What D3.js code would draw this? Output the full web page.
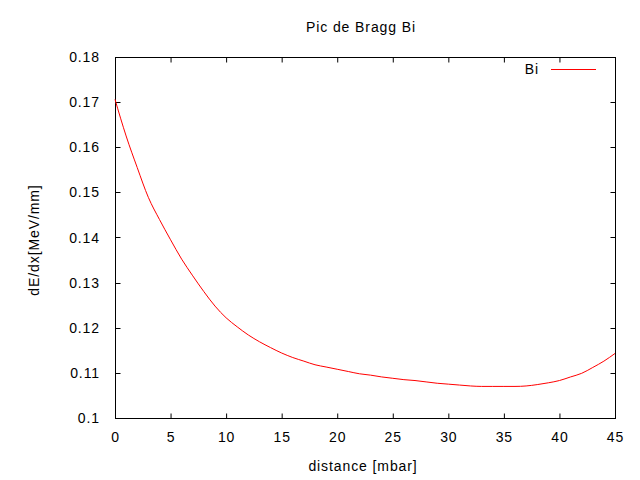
<!DOCTYPE html>
<html><head><meta charset="utf-8">
<script src="https://cdn.jsdelivr.net/npm/d3@7"></script>
<style>
body{margin:0;background:#fff;}
svg text{font-family:"Liberation Sans",Arial,sans-serif;font-size:14px;fill:#000;letter-spacing:0.9px;}
</style></head>
<body>
<svg id="c" width="640" height="480"></svg>
<script>
const distance = [0,1,2,3,4,5,6,7,8,9,10,11,12,13,14,15,16,17,18,19,20,21,22,23,24,25,26,27,28,29,30,31,32,33,34,35,36,37,38,39,40,41,42,43,44,45];
const dEdx = [0.1706,0.1625,0.1555,0.1489,0.1440,0.1395,0.1352,0.1315,0.1280,0.1248,0.1222,0.1202,0.1184,0.1169,0.1156,0.1144,0.1134,0.1126,0.1118,0.1113,0.1108,0.1103,0.1098,0.1095,0.1091,0.1088,0.1085,0.1083,0.1080,0.1077,0.1075,0.1073,0.1071,0.1070,0.1070,0.1070,0.1070,0.1071,0.1074,0.1078,0.1083,0.1091,0.1099,0.1112,0.1126,0.1143];
const xTicks = [0,5,10,15,20,25,30,35,40,45];
const yTicks = [0.1,0.11,0.12,0.13,0.14,0.15,0.16,0.17,0.18];
const title = "Pic de Bragg Bi";
const xLabel = "distance [mbar]";
const yLabel = "dE/dx[MeV/mm]";
const seriesName = "Bi";

const L=115,R=615,T=57,B=418;
const svg=d3.select("#c");
const x=d3.scaleLinear().domain([0,45]).range([L,R]);
const y=d3.scaleLinear().domain([0.1,0.18]).range([B,T]);
const tl=5;

const g=svg.append("g");
xTicks.forEach(t=>{
  g.append("line").attr("x1",x(t)+0.5).attr("x2",x(t)+0.5).attr("y1",B+0.5).attr("y2",B+0.5-tl).attr("stroke","#000");
  g.append("line").attr("x1",x(t)+0.5).attr("x2",x(t)+0.5).attr("y1",T+0.5).attr("y2",T+0.5+tl).attr("stroke","#000");
  g.append("text").attr("x",x(t)+0.5).attr("y",B+24).attr("text-anchor","middle").text(d3.format("d")(t));
});
yTicks.forEach(t=>{
  g.append("line").attr("x1",L+0.5).attr("x2",L+0.5+tl).attr("y1",Math.round(y(t))+0.5).attr("y2",Math.round(y(t))+0.5).attr("stroke","#000");
  g.append("line").attr("x1",R+0.5).attr("x2",R+0.5-tl).attr("y1",Math.round(y(t))+0.5).attr("y2",Math.round(y(t))+0.5).attr("stroke","#000");
  g.append("text").attr("x",100).attr("y",y(t)+5).attr("text-anchor","end").text(d3.format("")(+t.toFixed(2)));
});
g.append("rect").attr("x",L+0.5).attr("y",T+0.5).attr("width",R-L).attr("height",B-T).attr("fill","none").attr("stroke","#000");

const line=d3.line().x((d,i)=>x(distance[i])).y(d=>y(d)).curve(d3.curveMonotoneX);
svg.append("path").datum(dEdx).attr("d",line).attr("fill","none").attr("stroke","#ff0000").attr("stroke-width",1);

svg.append("text").attr("x",539).attr("y",74).attr("text-anchor","end").text(seriesName);
svg.append("line").attr("x1",551).attr("x2",596).attr("y1",69.5).attr("y2",69.5).attr("stroke","#ff0000");

svg.append("text").attr("x",361).attr("y",32).attr("text-anchor","middle").text(title);
svg.append("text").attr("x",363).attr("y",471).attr("text-anchor","middle").text(xLabel);
svg.append("text").attr("transform","translate(39,240) rotate(-90)").attr("text-anchor","middle").text(yLabel);
</script>
</body></html>
